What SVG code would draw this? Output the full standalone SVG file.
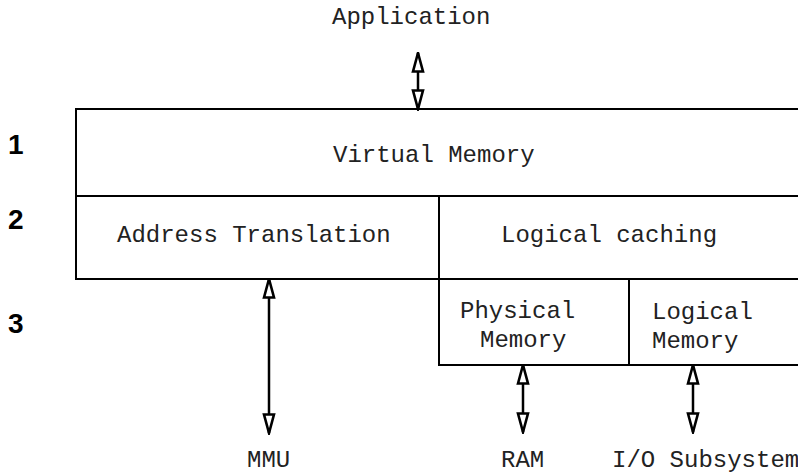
<svg xmlns="http://www.w3.org/2000/svg" width="798" height="473" viewBox="0 0 798 473">
  <style>
    .box { fill: #ffffff; stroke: #000000; stroke-width: 2; }
    .t { font-family: "Liberation Mono", "Courier New", monospace; font-size: 24px; fill: #222222; }
    .lvl { font-family: "Liberation Sans", Arial, sans-serif; font-size: 28px; font-weight: bold; fill: #000000; }
    .link { stroke: #000000; stroke-width: 2.5; fill: none; marker-start: url(#head); marker-end: url(#head); }
  </style>
  <defs>
    <marker id="head" viewBox="0 0 22 14" markerUnits="userSpaceOnUse" markerWidth="22" markerHeight="14" refX="20.5" refY="7" orient="auto-start-reverse">
      <path d="M2,2 L20.5,7 L2,12 Z" fill="#ffffff" stroke="#000000" stroke-width="2.6" stroke-linejoin="miter"/>
    </marker>
  </defs>
  <rect width="798" height="473" fill="#ffffff"/>

  <!-- layer numbers -->
  <g id="levels">
    <text class="lvl" x="8" y="154">1</text>
    <text class="lvl" x="8" y="229">2</text>
    <text class="lvl" x="8" y="333">3</text>
  </g>

  <!-- boxes (right edge runs past the frame) -->
  <g id="virtual-memory">
    <rect class="box" x="76" y="109" width="734" height="87"/>
    <text class="t" x="333" y="162">Virtual Memory</text>
  </g>
  <g id="address-translation">
    <rect class="box" x="76" y="196" width="363" height="83"/>
    <text class="t" x="117" y="242">Address Translation</text>
  </g>
  <g id="logical-caching">
    <rect class="box" x="439" y="196" width="371" height="83"/>
    <text class="t" x="501" y="242">Logical caching</text>
  </g>
  <g id="physical-memory">
    <rect class="box" x="439" y="279" width="190" height="86"/>
    <text class="t" x="460" y="318">Physical</text>
    <text class="t" x="480" y="347">Memory</text>
  </g>
  <g id="logical-memory">
    <rect class="box" x="629" y="279" width="181" height="86"/>
    <text class="t" x="652" y="319">Logical</text>
    <text class="t" x="652" y="348">Memory</text>
  </g>

  <!-- external endpoints -->
  <g id="application">
    <text class="t" x="332" y="24">Application</text>
  </g>
  <g id="mmu">
    <text class="t" x="247" y="467">MMU</text>
  </g>
  <g id="ram">
    <text class="t" x="501" y="467">RAM</text>
  </g>
  <g id="io-subsystem">
    <text class="t" x="612" y="467">I/O Subsystem</text>
  </g>

  <!-- two-way connectors -->
  <g id="connectors">
    <line class="link" x1="418" y1="53" x2="418" y2="109"/>
    <line class="link" x1="269" y1="279" x2="269" y2="433"/>
    <line class="link" x1="523" y1="365" x2="523" y2="432"/>
    <line class="link" x1="693" y1="365" x2="693" y2="432"/>
  </g>
</svg>
